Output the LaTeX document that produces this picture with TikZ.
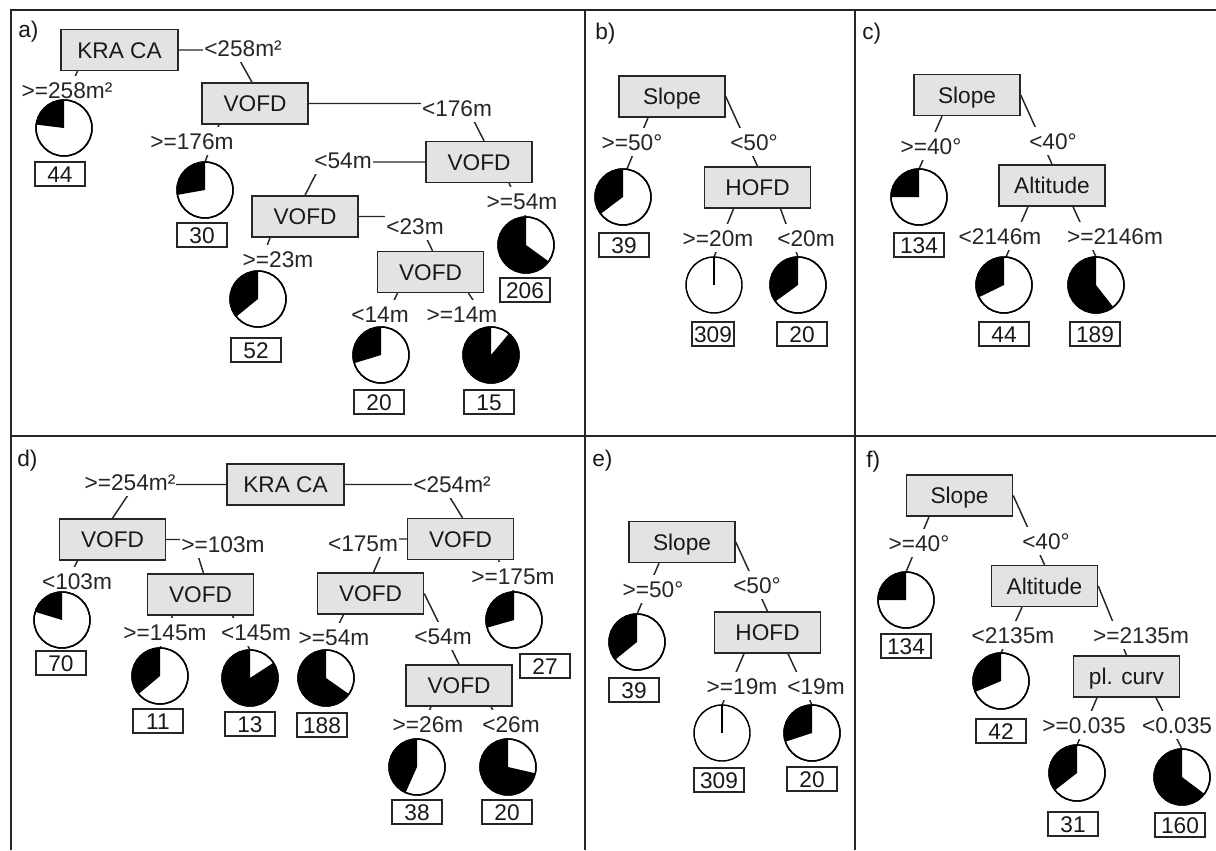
\documentclass[tikz,border=0pt]{standalone}
\usepackage{fontspec}
\setmainfont{Liberation Sans}
\usetikzlibrary{calc,backgrounds}
\newcommand\mypie[2]{\fill[black] (#1.center) -- ++(90:21pt) arc[start angle=90,end angle=#2,radius=21pt] -- cycle;\draw[line width=1.1pt] (#1.center) circle[radius=21pt];}
\begin{document}
\begin{tikzpicture}[x=0.75pt,y=-0.75pt,
  font=\fontsize{17pt}{20pt}\selectfont,
  box/.style={draw=black!85,line width=1.1pt,fill=black!11,minimum width=79.5pt,minimum height=30.75pt,inner sep=0pt,text height=12pt,text depth=0pt,text=black!90},
  wbox/.style={box,minimum width=87.75pt},
  lbl/.style={fill=white,inner xsep=0.8pt,inner ysep=4.2pt,text height=12pt,text depth=0pt,text=black!85},
  cnt/.style={draw=black!85,line width=0.8pt,fill=white,minimum width=37.5pt,minimum height=18pt,inner sep=0pt,text height=12pt,text depth=0pt,text=black!90},
  pie/.style={circle,draw=black,fill=white,line width=1.1pt,minimum size=42pt,inner sep=0pt,outer sep=0pt},
  conn/.style={draw=black!85,line width=1.1pt},
  frame/.style={draw=black!85,line width=1.6pt},
  tag/.style={anchor=base west,inner sep=0pt,text=black!90}]
\useasboundingbox (0,0) rectangle (1216,850);

% ---------- panel tags
\node[tag] (tA) at (18,37) {a)};
\node[tag] (tB) at (595,39) {b)};
\node[tag] (tC) at (862,39) {c)};
\node[tag] (tD) at (17,466) {d)};
\node[tag] (tE) at (592,466) {e)};
\node[tag] (tF) at (866,467) {f)};

% ---------- panel a: boxes
\node[wbox] (kra) at (119.5,50) {KRA CA};
\node[box] (va1) at (255,103.5) {VOFD};
\node[box] (va2) at (479,162) {VOFD};
\node[box] (va3) at (305,216.5) {VOFD};
\node[box] (va4) at (430.5,272) {VOFD};
% labels
\node[lbl] (la1) at (243,48) {<258m²};
\node[lbl] (la2) at (67,90) {>=258m²};
\node[lbl] (la3) at (457,108) {<176m};
\node[lbl] (la4) at (192,141) {>=176m};
\node[lbl] (la5) at (343,160) {<54m};
\node[lbl] (la6) at (522,201) {>=54m};
\node[lbl] (la7) at (415,226) {<23m};
\node[lbl] (la8) at (278,259) {>=23m};
\node[lbl] (la9) at (380,314) {<14m};
\node[lbl] (la10) at (462,314) {>=14m};
\coordinate (k1) at (234,50);
\coordinate (k2) at (465,103.5);
\coordinate (k3) at (322,162);
\coordinate (k4) at (416,216.5);
% pies
\node[pie] (pa1) at (64,128) {};
\node[pie] (pa2) at (205,190) {};
\node[pie] (pa3) at (258,299) {};
\node[pie] (pa4) at (526,245) {};
\node[pie] (pa5) at (381,355) {};
\node[pie] (pa6) at (491,355) {};
\mypie{pa1}{173}\mypie{pa2}{190}\mypie{pa3}{219}\mypie{pa4}{324}\mypie{pa5}{197}\mypie{pa6}{410}
% counts
\node[cnt] (ca1) at (60,174) {44};
\node[cnt] (ca2) at (202,235) {30};
\node[cnt] (ca3) at (256,350) {52};
\node[cnt] (ca4) at (525,290) {206};
\node[cnt] (ca5) at (379,402) {20};
\node[cnt] (ca6) at (489,402) {15};

% ---------- panel b
\node[box] (sb) at (672,96.5) {Slope};
\node[box] (hb) at (757.5,187.5) {HOFD};
\node[lbl] (lb1) at (632,142) {>=50°};
\node[lbl] (lb2) at (754,142) {<50°};
\node[lbl] (lb3) at (718,238) {>=20m};
\node[lbl] (lb4) at (806,238) {<20m};
\node[pie] (pb1) at (623,197) {};
\node[pie] (pb2) at (714,285) {};
\node[pie] (pb3) at (798,285) {};
\mypie{pb1}{217}\mypie{pb3}{216}
\draw[line width=1.1pt] (pb2.center) -- (pb2.north);
\node[cnt] (cb1) at (624,245) {39};
\node[cnt,minimum width=31.5pt] (cb2) at (713,334) {309};
\node[cnt] (cb3) at (802,334) {20};

% ---------- panel c
\node[box] (sc) at (967,95) {Slope};
\node[box] (altc) at (1052,185.5) {Altitude};
\node[lbl] (lc1) at (931,146) {>=40°};
\node[lbl] (lc2) at (1053,141) {<40°};
\node[lbl] (lc3) at (1000,236) {<2146m};
\node[lbl] (lc4) at (1115,236) {>=2146m};
\node[pie] (pc1) at (919,197) {};
\node[pie] (pc2) at (1004,285) {};
\node[pie] (pc3) at (1096,285) {};
\mypie{pc1}{180}\mypie{pc2}{206}\mypie{pc3}{308}
\node[cnt] (cc1) at (919,245) {134};
\node[cnt] (cc2) at (1004,334) {44};
\node[cnt] (cc3) at (1095,334) {189};

% ---------- panel d
\node[wbox] (kd) at (285.5,484.5) {KRA CA};
\node[box] (vd1) at (112.5,539.5) {VOFD};
\node[box] (vd2) at (200.5,594.5) {VOFD};
\node[box] (vd4) at (460.5,539) {VOFD};
\node[box] (vd5) at (370.5,593.5) {VOFD};
\node[box] (vd7) at (459,685.5) {VOFD};
\node[lbl] (ld1) at (130,482) {>=254m²};
\node[lbl] (ld2) at (452,484) {<254m²};
\node[lbl] (ld3) at (223,544) {>=103m};
\node[lbl] (ld4) at (77,581) {<103m};
\node[lbl] (ld5) at (165,632) {>=145m};
\node[lbl] (ld6) at (256,632) {<145m};
\node[lbl] (ld7) at (363,543) {<175m};
\node[lbl] (ld8) at (513,576) {>=175m};
\node[lbl] (ld9) at (334,637) {>=54m};
\node[lbl] (ld10) at (443,636) {<54m};
\node[lbl] (ld11) at (428,724) {>=26m};
\node[lbl] (ld12) at (511,724) {<26m};
\coordinate (kd1) at (135,484.5);
\coordinate (kd2) at (442,484.5);
\coordinate (kd3) at (193,539.5);
\coordinate (kd4) at (388,539);
\node[pie] (pd1) at (62,620) {};
\node[pie] (pd2) at (160,676) {};
\node[pie] (pd3) at (250,678) {};
\node[pie] (pd6) at (326,678) {};
\node[pie] (pd8) at (417,767) {};
\node[pie] (pd9) at (508,767) {};
\node[pie] (pd10) at (514,620) {};
\mypie{pd1}{163}\mypie{pd2}{220}\mypie{pd3}{393}\mypie{pd6}{325}\mypie{pd8}{246}\mypie{pd9}{347}\mypie{pd10}{196}
\node[cnt] (cd1) at (61,663) {70};
\node[cnt] (cd2) at (158,721) {11};
\node[cnt] (cd3) at (250,724) {13};
\node[cnt] (cd6) at (322,725) {188};
\node[cnt] (cd8) at (417,812) {38};
\node[cnt] (cd9) at (507,812) {20};
\node[cnt] (cd10) at (545,666) {27};

% ---------- panel e
\node[box] (se) at (682,542) {Slope};
\node[box] (he) at (767.5,632.5) {HOFD};
\node[lbl] (le1) at (653,589) {>=50°};
\node[lbl] (le2) at (757,585) {<50°};
\node[lbl] (le3) at (742,686) {>=19m};
\node[lbl] (le4) at (816,686) {<19m};
\node[pie] (pe1) at (637,642) {};
\node[pie] (pe2) at (722,733) {};
\node[pie] (pe3) at (812,733) {};
\mypie{pe1}{219}\mypie{pe3}{198}
\draw[line width=1.1pt] (pe2.center) -- (pe2.north);
\node[cnt] (ce1) at (634,690) {39};
\node[cnt] (ce2) at (719,780) {309};
\node[cnt] (ce3) at (812,779) {20};

% ---------- panel f
\node[box] (sf) at (959.5,495.5) {Slope};
\node[box] (af) at (1044.5,586) {Altitude};
\node[box] (pf) at (1126.5,676.5) {pl. curv};
\node[lbl] (lf1) at (919,543) {>=40°};
\node[lbl] (lf2) at (1046,541) {<40°};
\node[lbl] (lf3) at (1013,635) {<2135m};
\node[lbl] (lf4) at (1141,635) {>=2135m};
\node[lbl] (lf5) at (1084,725) {>=0.035};
\node[lbl] (lf6) at (1177,725) {<0.035};
\node[pie] (pf1) at (906,600) {};
\node[pie] (pf2) at (1001,681) {};
\node[pie] (pf3) at (1077,773) {};
\node[pie] (pf4) at (1182,777) {};
\mypie{pf1}{180}\mypie{pf2}{203}\mypie{pf3}{218}\mypie{pf4}{323}
\node[cnt] (cf1) at (906,646) {134};
\node[cnt] (cf2) at (1001,731) {42};
\node[cnt] (cf3) at (1073,824) {31};
\node[cnt] (cf4) at (1180,825) {160};

% ---------- connectors (behind everything)
\begin{scope}[on background layer]
\fill[white] (0,0) rectangle (1216,850);
% a
\draw[conn] (kra.east) -- (k1) -- ($(va1.north)+(-3,0)$);
\draw[conn] ($(kra.south)+(-42,0)$) -- (pa1.north);
\draw[conn] (va1.east) -- (k2) -- ($(va2.north)+(5,0)$);
\draw[conn] ($(va1.south)+(-36,0)$) -- (pa2.north);
\draw[conn] (va2.west) -- (k3) -- (va3.north);
\draw[conn] ($(va2.south)+(30,0)$) -- (pa4.north);
\draw[conn] (va3.east) -- (k4) -- ($(va4.north)+(2,0)$);
\draw[conn] ($(va3.south)+(-35,0)$) -- (pa3.north);
\draw[conn] ($(va4.south)+(-33,0)$) -- (pa5.north);
\draw[conn] ($(va4.south)+(38,0)$) -- (pa6.north);
% b
\draw[conn] ($(sb.south)+(-24,0)$) -- ($(pb1.north)+(4,0)$);
\draw[conn] (sb.east) -- (hb.north);
\draw[conn] ($(hb.south)+(-24,0)$) -- (pb2.north);
\draw[conn] ($(hb.south)+(23,0)$) -- (pb3.north);
% c
\draw[conn] ($(sc.south)+(-25,0)$) -- (pc1.north);
\draw[conn] (sc.east) -- (altc.north);
\draw[conn] ($(altc.south)+(-24,0)$) -- ($(pc2.north)+(2,0)$);
\draw[conn] ($(altc.south)+(21,0)$) -- (pc3.north);
% d
\draw[conn] (kd.west) -- (kd1) -- (vd1.north);
\draw[conn] (kd.east) -- (kd2) -- ($(vd4.north)+(2,0)$);
\draw[conn] (vd1.east) -- (kd3) -- ($(vd2.north)+(3,0)$);
\draw[conn] ($(vd1.south)+(-35,0)$) -- (pd1.north);
\draw[conn] ($(vd2.south)+(-28,0)$) -- (pd2.north);
\draw[conn] ($(vd2.south)+(32,0)$) -- (pd3.north);
\draw[conn] (vd4.west) -- (kd4) -- ($(vd5.north)+(3,0)$);
\draw[conn] ($(vd4.south)+(38,0)$) -- (pd10.north);
\draw[conn] ($(vd5.south)+(-27,0)$) -- (pd6.north);
\draw[conn] (vd5.east) -- (vd7.north);
\draw[conn] ($(vd7.south)+(-28,0)$) -- (pd8.north);
\draw[conn] ($(vd7.south)+(32,0)$) -- (pd9.north);
% e
\draw[conn] ($(se.south)+(-23,0)$) -- (pe1.north);
\draw[conn] (se.east) -- (he.north);
\draw[conn] ($(he.south)+(-23.5,0)$) -- (pe2.north);
\draw[conn] ($(he.south)+(20.5,0)$) -- (pe3.north);
% f
\draw[conn] ($(sf.south)+(-30.5,0)$) -- (pf1.north);
\draw[conn] (sf.east) -- (af.north);
\draw[conn] ($(af.south)+(-22.5,0)$) -- (pf2.north);
\draw[conn] (af.east) -- (pf.north);
\draw[conn] ($(pf.south)+(-29.5,0)$) -- (pf3.north);
\draw[conn] ($(pf.south)+(29.5,0)$) -- (pf4.north);
\end{scope}

% ---------- frame
\draw[frame] (10,10) -- (1216,10);
\draw[frame] (11,10) -- (11,850);
\draw[frame] (11,436) -- (1216,436);
\draw[frame] (585,10) -- (585,850);
\draw[frame] (855,10) -- (855,850);
\end{tikzpicture}
\end{document}
